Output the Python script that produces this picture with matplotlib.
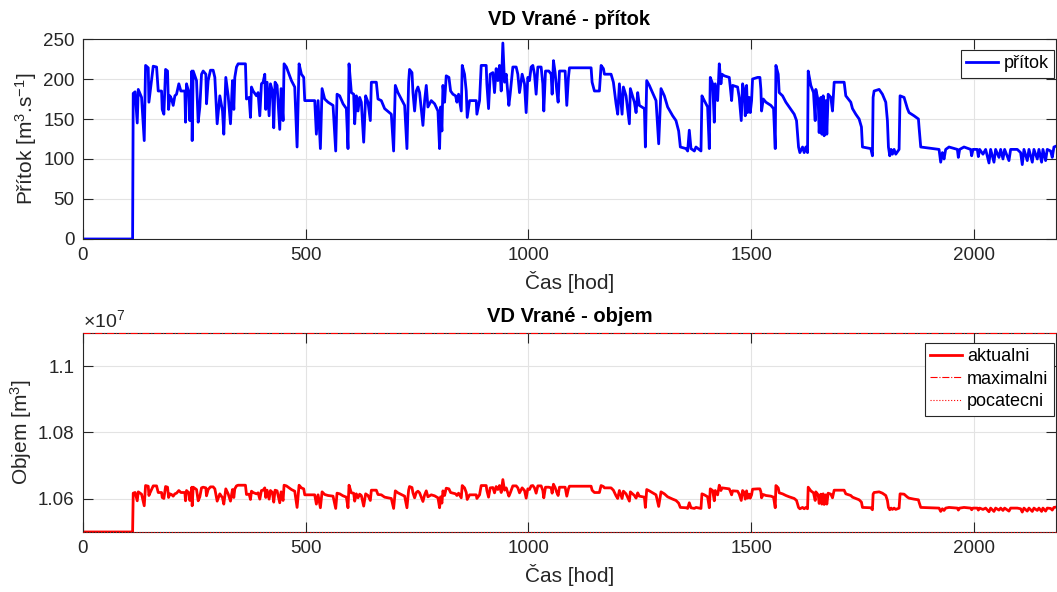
import matplotlib
matplotlib.use("Agg")
import matplotlib.pyplot as plt
from matplotlib.ticker import FuncFormatter

plt.rcParams["font.family"] = ["Liberation Sans", "DejaVu Sans"]
plt.rcParams["mathtext.fontset"] = "custom"
plt.rcParams["mathtext.rm"] = "Liberation Sans"
plt.rcParams["mathtext.it"] = "Liberation Sans:italic"

# time [hod]
hours = [
    0, 111.4, 112.8, 117.0, 121.8, 124.1, 131.5, 137.5, 140.5, 146.5,
    148.0, 150.2, 157.7, 165.2, 168.9, 176.4, 177.9, 181.6, 185.4, 189.8,
    192.1, 195.1, 198.8, 202.5, 206.3, 210.0, 215.2, 219.7, 228.7, 230.2,
    232.4, 237.7, 239.9, 244.4, 245.1, 247.4, 254.9, 258.6, 262.3, 266.1,
    269.8, 275.8, 277.3, 281.0, 286.2, 292.2, 296.0, 301.2, 307.2, 313.2,
    316.1, 320.6, 325.9, 331.1, 335.6, 338.6, 340.8, 344.6, 348.3, 364.7,
    367.0, 373.0, 376.0, 378.2, 381.9, 389.4, 393.1, 396.9, 400.6, 404.3,
    408.1, 410.3, 413.3, 417.8, 420.8, 425.3, 428.2, 431.2, 435.7, 441.7,
    444.7, 449.2, 451.4, 456.6, 462.6, 467.9, 475.3, 480.6, 485.1, 490.3,
    495.5, 497.8, 501.5, 520.2, 523.9, 527.7, 532.9, 536.7, 542.6, 550.1,
    561.3, 567.3, 570.3, 576.2, 583.7, 591.2, 594.9, 597.2, 602.4, 607.6,
    609.9, 613.6, 617.4, 621.1, 624.8, 630.1, 634.5, 639.8, 645.0, 647.3,
    658.5, 662.2, 669.7, 677.1, 692.1, 697.3, 701.1, 707.0, 714.5, 722.0,
    727.2, 731.0, 733.0, 738.5, 740.7, 744.4, 748.2, 751.9, 755.6, 763.1,
    766.9, 770.6, 774.3, 781.8, 789.3, 796.8, 800.5, 802.7, 805.7, 808.0,
    811.7, 815.4, 821.4, 825.2, 830.4, 836.4, 839.4, 843.1, 849.1, 851.3,
    856.5, 860.3, 862.5, 867.8, 882.7, 884.2, 890.2, 893.9, 905.1, 906.6,
    910.4, 914.1, 920.1, 923.8, 927.5, 931.3, 935.0, 938.8, 942.5, 946.2,
    950.0, 956.0, 958.9, 964.9, 972.4, 976.1, 979.9, 985.8, 991.1, 994.8,
    998.5, 1002.3, 1006.0, 1009.8, 1013.5, 1017.2, 1021.0, 1028.4, 1032.2, 1034.4,
    1038.2, 1045.6, 1050.9, 1053.1, 1056.1, 1059.8, 1063.6, 1066.6, 1069.6, 1082.3,
    1086.0, 1089.7, 1092.0, 1140.6, 1142.8, 1148.0, 1159.2, 1163.0, 1168.2, 1170.5,
    1185.4, 1190.6, 1196.6, 1200.3, 1204.1, 1210.1, 1213.1, 1219.0, 1226.5, 1228.7,
    1237.7, 1241.5, 1245.2, 1248.9, 1260.2, 1262.4, 1265.4, 1271.3, 1286.3, 1292.3,
    1297.5, 1305.0, 1312.4, 1323.7, 1331.1, 1337.1, 1340.9, 1353.6, 1357.3, 1361.0,
    1364.8, 1372.3, 1376.0, 1387.2, 1389.4, 1394.7, 1402.1, 1405.9, 1408.1, 1413.4,
    1417.1, 1419.3, 1424.6, 1428.3, 1432.0, 1434.3, 1439.5, 1450.7, 1453.0, 1456.0,
    1458.3, 1469.4, 1473.1, 1477.6, 1480.6, 1484.4, 1486.6, 1489.6, 1491.8, 1495.6,
    1497.8, 1500.8, 1503.0, 1514.3, 1519.5, 1521.7, 1523.2, 1527.0, 1533.0, 1544.1,
    1550.1, 1553.9, 1555.4, 1560.6, 1562.8, 1570.3, 1577.8, 1585.3, 1596.5, 1601.7,
    1606.2, 1609.2, 1615.2, 1618.9, 1622.6, 1626.4, 1627.9, 1633.8, 1639.8, 1643.6,
    1645.0, 1650.3, 1652.5, 1656.3, 1658.5, 1661.5, 1663.7, 1667.5, 1669.7, 1672.7,
    1678.7, 1682.4, 1686.2, 1708.6, 1712.3, 1723.5, 1727.3, 1734.7, 1742.2, 1747.4,
    1749.7, 1768.4, 1772.1, 1773.6, 1775.8, 1787.1, 1794.5, 1802.0, 1805.7, 1808.0,
    1811.0, 1814.0, 1817.0, 1820.7, 1824.4, 1831.9, 1834.1, 1843.1, 1850.6, 1854.3,
    1865.5, 1875.3, 1876.7, 1880.5, 1921.6, 1925.3, 1929.1, 1932.8, 1936.5, 1944.0,
    1962.7, 1964.9, 1967.9, 1977.6, 1992.6, 1994.8, 1997.8, 2007.5, 2009.8, 2012.8,
    2020.2, 2026.2, 2033.7, 2037.4, 2044.9, 2048.6, 2056.1, 2059.9, 2065.1, 2068.8,
    2078.5, 2082.3, 2097.2, 2104.7, 2108.4, 2112.2, 2119.6, 2123.4, 2130.9, 2134.6,
    2142.1, 2145.8, 2151.8, 2154.8, 2160.8, 2164.5, 2172.0, 2175.7, 2179.5, 2184.0,
]

# pritok [m3/s]
inflow = [
    0, 0, 182, 184, 145, 187, 177, 123, 217, 214,
    171, 181, 216, 215, 185, 185, 162, 156, 212, 210,
    162, 179, 175, 167, 179, 181, 194, 185, 185, 146,
    194, 183, 148, 210, 123, 210, 198, 146, 165, 206,
    210, 206, 169, 198, 211, 211, 202, 144, 179, 160,
    131, 202, 179, 144, 198, 162, 202, 215, 219, 219,
    175, 177, 152, 190, 185, 179, 183, 154, 194, 196,
    206, 162, 196, 154, 194, 185, 139, 196, 192, 137,
    188, 148, 219, 215, 206, 198, 190, 115, 219, 206,
    202, 173, 173, 173, 131, 173, 113, 188, 175, 171,
    167, 110, 181, 179, 169, 163, 113, 219, 183, 181,
    144, 179, 160, 177, 171, 121, 179, 171, 148, 196,
    196, 175, 173, 163, 156, 110, 192, 183, 175, 167,
    113, 196, 212, 208, 183, 160, 185, 190, 183, 142,
    173, 192, 165, 173, 169, 160, 113, 165, 135, 192,
    171, 204, 202, 185, 181, 179, 171, 181, 160, 217,
    206, 185, 152, 173, 173, 156, 173, 217, 217, 194,
    163, 206, 208, 183, 213, 198, 217, 185, 245, 196,
    206, 167, 181, 215, 215, 206, 183, 206, 194, 158,
    202, 198, 215, 217, 206, 181, 215, 215, 194, 160,
    210, 210, 206, 181, 223, 208, 185, 171, 210, 210,
    167, 202, 214, 214, 196, 185, 185, 217, 213, 206,
    206, 196, 169, 156, 194, 156, 190, 179, 144, 188,
    171, 158, 183, 167, 163, 115, 198, 192, 173, 119,
    188, 179, 165, 154, 148, 135, 115, 113, 110, 136,
    113, 110, 115, 110, 179, 173, 165, 113, 202, 194,
    146, 194, 173, 219, 194, 206, 204, 202, 190, 173,
    192, 190, 177, 148, 194, 185, 154, 192, 158, 177,
    158, 173, 200, 202, 202, 187, 160, 175, 171, 167,
    163, 113, 217, 206, 183, 179, 171, 165, 156, 148,
    115, 108, 115, 108, 115, 108, 210, 192, 183, 148,
    187, 173, 133, 177, 131, 179, 129, 173, 131, 181,
    177, 160, 196, 196, 179, 171, 163, 156, 150, 140,
    115, 113, 104, 177, 185, 187, 181, 171, 148, 115,
    104, 112, 106, 112, 106, 112, 179, 177, 163, 158,
    154, 150, 140, 115, 112, 96, 108, 100, 112, 115,
    112, 102, 112, 115, 112, 104, 112, 112, 103, 112,
    106, 112, 95, 112, 96, 112, 102, 112, 100, 112,
    98, 112, 112, 108, 93, 112, 98, 112, 96, 112,
    100, 112, 96, 112, 98, 112, 110, 102, 115, 116,
]

# objem [x 1e7 m3]
volume = [
    1.0500, 1.0500, 1.0617, 1.0619, 1.0594, 1.0621, 1.0614, 1.0579, 1.0640, 1.0638,
    1.0610, 1.0617, 1.0639, 1.0639, 1.0619, 1.0619, 1.0604, 1.0601, 1.0637, 1.0635,
    1.0604, 1.0615, 1.0613, 1.0608, 1.0615, 1.0617, 1.0625, 1.0619, 1.0619, 1.0594,
    1.0625, 1.0618, 1.0595, 1.0635, 1.0579, 1.0635, 1.0628, 1.0594, 1.0606, 1.0633,
    1.0635, 1.0633, 1.0609, 1.0628, 1.0636, 1.0636, 1.0630, 1.0593, 1.0615, 1.0603,
    1.0584, 1.0630, 1.0615, 1.0593, 1.0628, 1.0604, 1.0630, 1.0639, 1.0641, 1.0641,
    1.0613, 1.0614, 1.0598, 1.0623, 1.0619, 1.0615, 1.0618, 1.0599, 1.0625, 1.0626,
    1.0633, 1.0604, 1.0626, 1.0599, 1.0625, 1.0619, 1.0590, 1.0626, 1.0624, 1.0588,
    1.0621, 1.0595, 1.0641, 1.0639, 1.0633, 1.0628, 1.0623, 1.0574, 1.0641, 1.0633,
    1.0630, 1.0612, 1.0612, 1.0612, 1.0584, 1.0612, 1.0573, 1.0621, 1.0613, 1.0610,
    1.0608, 1.0571, 1.0617, 1.0615, 1.0609, 1.0605, 1.0573, 1.0641, 1.0618, 1.0617,
    1.0593, 1.0615, 1.0603, 1.0614, 1.0610, 1.0578, 1.0615, 1.0610, 1.0595, 1.0626,
    1.0626, 1.0613, 1.0612, 1.0605, 1.0601, 1.0571, 1.0624, 1.0618, 1.0613, 1.0608,
    1.0573, 1.0626, 1.0637, 1.0634, 1.0618, 1.0603, 1.0619, 1.0623, 1.0618, 1.0592,
    1.0612, 1.0624, 1.0606, 1.0612, 1.0609, 1.0603, 1.0573, 1.0606, 1.0587, 1.0624,
    1.0610, 1.0632, 1.0630, 1.0619, 1.0617, 1.0615, 1.0610, 1.0617, 1.0603, 1.0640,
    1.0633, 1.0619, 1.0598, 1.0612, 1.0612, 1.0601, 1.0612, 1.0640, 1.0640, 1.0625,
    1.0605, 1.0633, 1.0634, 1.0618, 1.0637, 1.0628, 1.0640, 1.0619, 1.0658, 1.0626,
    1.0633, 1.0608, 1.0617, 1.0639, 1.0639, 1.0633, 1.0618, 1.0633, 1.0625, 1.0602,
    1.0630, 1.0628, 1.0639, 1.0640, 1.0633, 1.0617, 1.0639, 1.0639, 1.0625, 1.0603,
    1.0635, 1.0635, 1.0633, 1.0617, 1.0644, 1.0634, 1.0619, 1.0610, 1.0635, 1.0635,
    1.0608, 1.0630, 1.0638, 1.0638, 1.0626, 1.0619, 1.0619, 1.0640, 1.0637, 1.0633,
    1.0633, 1.0626, 1.0609, 1.0601, 1.0625, 1.0601, 1.0623, 1.0615, 1.0593, 1.0621,
    1.0610, 1.0602, 1.0618, 1.0608, 1.0605, 1.0574, 1.0628, 1.0624, 1.0612, 1.0577,
    1.0621, 1.0615, 1.0606, 1.0599, 1.0595, 1.0587, 1.0574, 1.0573, 1.0571, 1.0588,
    1.0573, 1.0571, 1.0574, 1.0571, 1.0615, 1.0612, 1.0606, 1.0573, 1.0630, 1.0625,
    1.0594, 1.0625, 1.0612, 1.0641, 1.0625, 1.0633, 1.0632, 1.0630, 1.0623, 1.0612,
    1.0624, 1.0623, 1.0614, 1.0595, 1.0625, 1.0619, 1.0599, 1.0624, 1.0602, 1.0614,
    1.0602, 1.0612, 1.0629, 1.0630, 1.0630, 1.0621, 1.0603, 1.0613, 1.0610, 1.0608,
    1.0605, 1.0573, 1.0640, 1.0633, 1.0618, 1.0615, 1.0610, 1.0606, 1.0601, 1.0595,
    1.0574, 1.0570, 1.0574, 1.0570, 1.0574, 1.0570, 1.0635, 1.0624, 1.0618, 1.0595,
    1.0621, 1.0612, 1.0586, 1.0614, 1.0584, 1.0615, 1.0583, 1.0612, 1.0584, 1.0617,
    1.0614, 1.0603, 1.0626, 1.0626, 1.0615, 1.0610, 1.0605, 1.0601, 1.0597, 1.0590,
    1.0574, 1.0573, 1.0567, 1.0614, 1.0619, 1.0621, 1.0617, 1.0610, 1.0595, 1.0574,
    1.0567, 1.0572, 1.0568, 1.0572, 1.0568, 1.0572, 1.0615, 1.0614, 1.0605, 1.0602,
    1.0599, 1.0597, 1.0590, 1.0574, 1.0572, 1.0562, 1.0570, 1.0565, 1.0572, 1.0574,
    1.0572, 1.0566, 1.0572, 1.0574, 1.0572, 1.0567, 1.0572, 1.0572, 1.0566, 1.0572,
    1.0568, 1.0572, 1.0561, 1.0572, 1.0562, 1.0572, 1.0566, 1.0572, 1.0565, 1.0572,
    1.0563, 1.0572, 1.0572, 1.0570, 1.0560, 1.0572, 1.0563, 1.0572, 1.0562, 1.0572,
    1.0565, 1.0572, 1.0562, 1.0572, 1.0563, 1.0572, 1.0571, 1.0566, 1.0574, 1.0575,
]

vol_max = 1.11    # maximalni objem [x 1e7]
vol_init = 1.05   # pocatecni objem [x 1e7]
t_end = 2184

x_ticks = [0, 500, 1000, 1500, 2000]
q_ticks = [0, 50, 100, 150, 200, 250]
v_ticks = [1.06, 1.08, 1.10]

dark = "#262626"

fig = plt.figure(figsize=(10.57, 5.92), dpi=100)
ax1 = fig.add_axes([0.0785, 0.5963, 0.9205, 0.3378])
ax2 = fig.add_axes([0.0785, 0.1014, 0.9205, 0.3361])


def matlab_style(ax):
    ax.grid(True, color="#e3e3e3", linewidth=0.8)
    ax.set_axisbelow(True)
    ax.tick_params(direction="in", length=7, width=0.8, top=True, right=True,
                   labelsize=13.5, colors=dark, pad=6)
    for s in ax.spines.values():
        s.set_color(dark)
        s.set_linewidth(0.8)
    ax.set_xlim(0, t_end)
    ax.set_xticks(x_ticks)


def matlab_legend(ax, anchor_y):
    leg = ax.legend(loc="upper right", bbox_to_anchor=(0.998, anchor_y), borderaxespad=0,
                    fancybox=False, edgecolor=dark, framealpha=1, fontsize=13,
                    handlelength=1.75, borderpad=0.3, handletextpad=0.3,
                    labelspacing=0.3)
    leg.get_frame().set_linewidth(0.8)
    return leg


# 1. pritok
ax1.plot(hours, inflow, color="#0000ff", linewidth=2.0, label="přítok")
matlab_style(ax1)
ax1.set_ylim(0, 250)
ax1.set_yticks(q_ticks)
ax1.set_title("VD Vrané - přítok", fontsize=14.5, fontweight="bold", pad=10)
ax1.set_xlabel("Čas [hod]", fontsize=15, color=dark, labelpad=5)
ax1.set_ylabel("Přítok [m$^3$.s$^{-1}$]", fontsize=15, color=dark, labelpad=3)
matlab_legend(ax1, 0.945)

# 2. objem
ax2.plot(hours, volume, color="#ff0000", linewidth=2.0, label="aktualni")
ax2.plot([0, t_end], [vol_max, vol_max], color="#ff0000", linewidth=0.8,
         linestyle="-.", label="maximalni", clip_on=False, zorder=5)
ax2.plot([0, t_end], [vol_init, vol_init], color="#ff0000", linewidth=0.8,
         linestyle=":", label="pocatecni", clip_on=False, zorder=5)
matlab_style(ax2)
ax2.set_ylim(vol_init, vol_max)
ax2.set_yticks(v_ticks)
ax2.yaxis.set_major_formatter(FuncFormatter(lambda v, p: f"{v:g}"))
ax2.set_title("VD Vrané - objem", fontsize=14.5, fontweight="bold", pad=8)
ax2.set_xlabel("Čas [hod]", fontsize=15, color=dark, labelpad=5)
ax2.set_ylabel("Objem [m$^3$]", fontsize=15, color=dark, labelpad=3)
ax2.text(0, 1.012, r"$\times10^{7}$", transform=ax2.transAxes, fontsize=14,
         color=dark, ha="left", va="bottom")
matlab_legend(ax2, 0.95)

fig.savefig("out.png", dpi=100)
